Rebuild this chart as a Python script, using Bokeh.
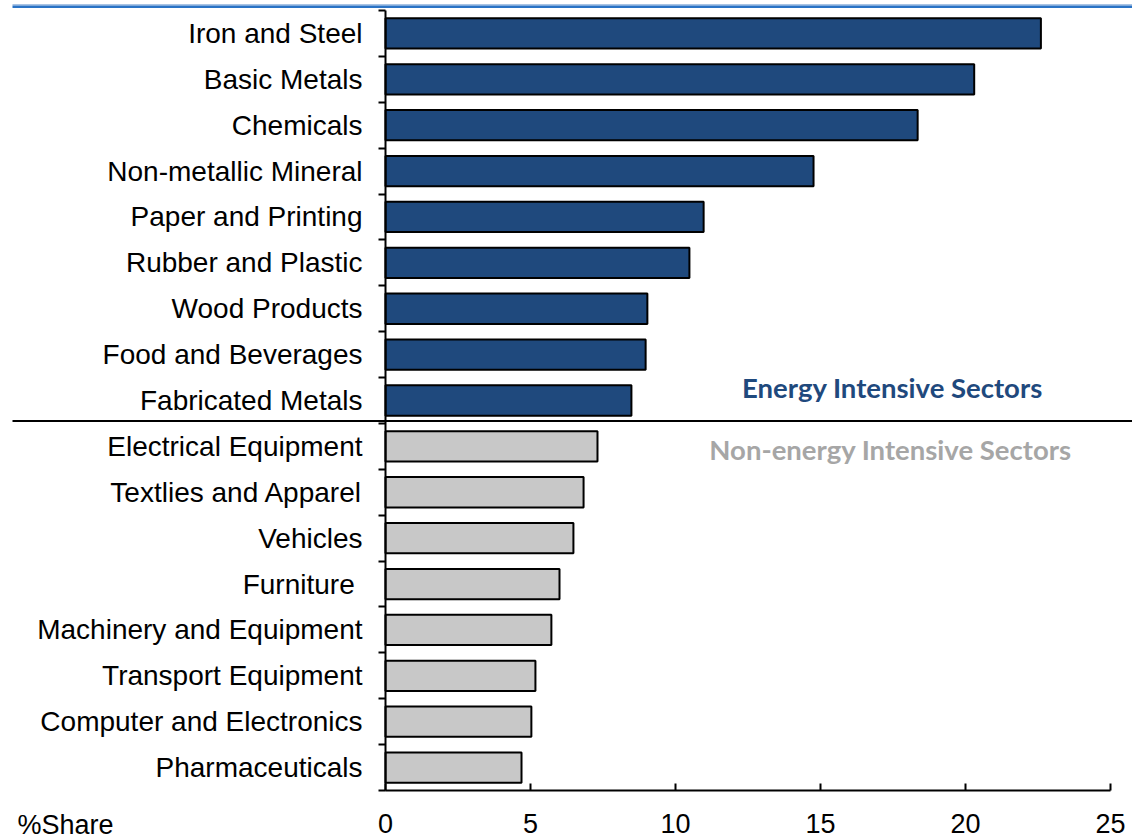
from bokeh.plotting import figure
from bokeh.models import Range1d, FixedTicker, CustomJSTickFormatter, BoxAnnotation, Label
from bokeh.embed import file_html
from bokeh.resources import INLINE

sectors = ["Iron and Steel", "Basic Metals", "Chemicals", "Non-metallic Mineral",
           "Paper and Printing", "Rubber and Plastic", "Wood Products",
           "Food and Beverages", "Fabricated Metals", "Electrical Equipment",
           "Textlies and Apparel", "Vehicles", "Furniture ", "Machinery and Equipment",
           "Transport Equipment", "Computer and Electronics", "Pharmaceuticals"]
share = [22.6, 20.3, 18.35, 14.76, 10.97, 10.48, 9.03, 8.97, 8.48,
         7.31, 6.83, 6.48, 6.0, 5.72, 5.17, 5.03, 4.69]
group = ["energy"] * 9 + ["non"] * 8
x_ticks = [0, 5, 10, 15, 20, 25]
x_max = 25

DARK = "#1F497D"
GRAY_BAR = "#C8C8C8"
GRAY_TXT = "#A6A6A6"

W, H = 1132, 838
# plot-area placement in pixels (layout only)
PX_LEFT, PX_RIGHT, PX_TOP, PX_BOTTOM = 385, 1110, 10, 790

n = len(sectors)
ys = [n - 0.5 - i for i in range(n)]
colors = [DARK if g == "energy" else GRAY_BAR for g in group]

sx = (PX_RIGHT - PX_LEFT) / x_max          # px per x unit
sy = (PX_BOTTOM - PX_TOP) / n              # px per category
x_range = Range1d(-PX_LEFT / sx, (W - PX_LEFT) / sx)
y_range = Range1d(-(H - PX_BOTTOM) / sy, n + PX_TOP / sy)

def xd(px):
    return (px - PX_LEFT) / sx

def yd(py):
    return n - (py - PX_TOP) / sy

p = figure(width=W, height=H, x_range=x_range, y_range=y_range,
           output_backend="svg", toolbar_location=None, min_border=0)
p.outline_line_color = None
p.xgrid.visible = False
p.ygrid.visible = False
p.background_fill_color = "white"
p.border_fill_color = "white"

p.hbar(y=ys, left=0, right=share, height=0.66, fill_color=colors,
       line_color="black", line_width=2)

# x axis
xa = p.xaxis[0]
xa.fixed_location = 0
xa.bounds = (0, x_max)
xa.ticker = FixedTicker(ticks=x_ticks, minor_ticks=[])
xa.major_tick_in = 7
xa.major_tick_out = 0
xa.minor_tick_in = 0
xa.minor_tick_out = 0
xa.axis_line_width = 2
xa.axis_line_color = "black"
xa.major_tick_line_width = 2
xa.major_tick_line_color = "black"
xa.major_label_standoff = 23
xa.major_label_text_font = "Liberation Sans"
xa.major_label_text_font_size = "27px"
xa.major_label_text_color = "black"

# y axis
ya = p.yaxis[0]
ya.fixed_location = 0
ya.bounds = (0, n)
ya.ticker = FixedTicker(ticks=ys, minor_ticks=list(range(0, n + 1)))
ya.formatter = CustomJSTickFormatter(args=dict(labels=sectors, n=n),
                                     code="return labels[Math.round(n - 0.5 - tick)];")
ya.major_tick_in = 0
ya.major_tick_out = 0
ya.minor_tick_in = 0
ya.minor_tick_out = 7
ya.minor_tick_line_width = 2
ya.minor_tick_line_color = "black"
ya.axis_line_width = 2
ya.axis_line_color = "black"
ya.major_label_standoff = 16
ya.major_label_text_font = "Liberation Sans"
ya.major_label_text_font_size = "28px"
ya.major_label_text_color = "black"

# separator between the two groups, across the whole width
p.add_layout(BoxAnnotation(left=xd(12), right=xd(W), bottom=yd(421.5), top=yd(419.5),
                           fill_color="black", fill_alpha=1, line_color=None))

# top blue rule
p.add_layout(BoxAnnotation(left=xd(12), right=xd(W), bottom=yd(5), top=yd(3.5),
                           fill_color="#A9C4E4", fill_alpha=1, line_color=None))
p.add_layout(BoxAnnotation(left=xd(12), right=xd(W), bottom=yd(7.5), top=yd(5),
                           fill_color="#2A73C5", fill_alpha=1, line_color=None))

p.add_layout(Label(x=xd(892), y=yd(387), text="Energy Intensive Sectors", text_align="center",
                   text_baseline="middle", text_font="Lato", text_font_style="bold",
                   text_font_size="27.5px", text_color=DARK))
p.add_layout(Label(x=xd(890), y=yd(449), text="Non-energy Intensive Sectors", text_align="center",
                   text_baseline="middle", text_font="Lato", text_font_style="bold",
                   text_font_size="27.5px", text_color=GRAY_TXT))
p.add_layout(Label(x=xd(17), y=yd(824), text="%Share", text_align="left",
                   text_baseline="middle", text_font="Liberation Sans",
                   text_font_size="27px", text_color="black"))

open("out.html", "w").write(file_html(p, INLINE))
